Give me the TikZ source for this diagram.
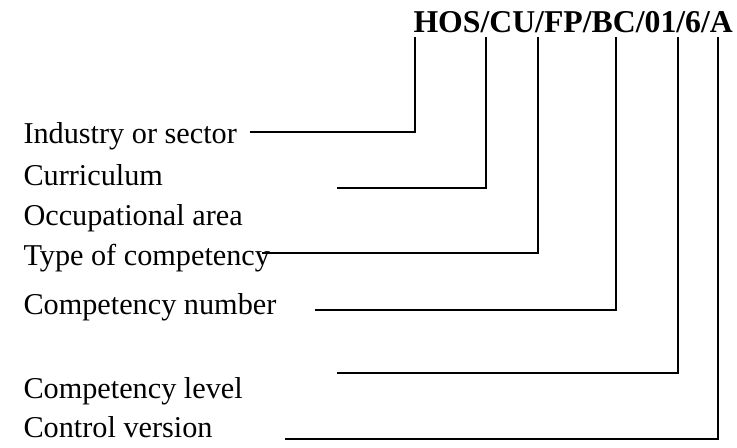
\documentclass[tikz,border=0pt]{standalone}
\usepackage{fontspec}
\setmainfont{Liberation Serif}
\begin{document}
\begin{tikzpicture}[x=0.4pt,y=-0.4pt,
  lbl/.style={anchor=base west,inner sep=0pt,font=\fontsize{12.1}{14}\selectfont},
  codetext/.style={anchor=base west,inner sep=0pt,font=\fontsize{12.7}{15}\selectfont\bfseries},
  lead/.style={line width=0.65pt,line join=miter}]
\useasboundingbox (0,0) rectangle (737,447);

% the code being explained
\node[codetext] (code) at (413,32) {HOS/CU/FP/BC/01/6/A};

% meaning of each part
\node[lbl] (l1) at (23,143) {Industry or sector};
\node[lbl] (l2) at (23,185) {Curriculum};
\node[lbl] (l3) at (23,225) {Occupational area};
\node[lbl] (l4) at (23,265) {Type of competency};
\node[lbl] (l5) at (23,314) {Competency number};
\node[lbl] (l6) at (23,398) {Competency level};
\node[lbl] (l7) at (23,437) {Control version};

% points under the code where the leaders end
\coordinate (t1) at (415,37);
\coordinate (t2) at (486,37);
\coordinate (t3) at (538,37);
\coordinate (t4) at (616,37);
\coordinate (t5) at (678,37);
\coordinate (t6) at (718,37);

% free left ends of the leaders
\coordinate (s1) at (250,132);
\coordinate (s2) at (337,188);
\coordinate (s3) at (262,253);
\coordinate (s4) at (315,310);
\coordinate (s5) at (337,373);
\coordinate (s6) at (285,439);

\foreach \i in {1,...,6}
  \draw[lead] (s\i) -- (s\i -| t\i) -- (t\i);
\end{tikzpicture}
\end{document}
